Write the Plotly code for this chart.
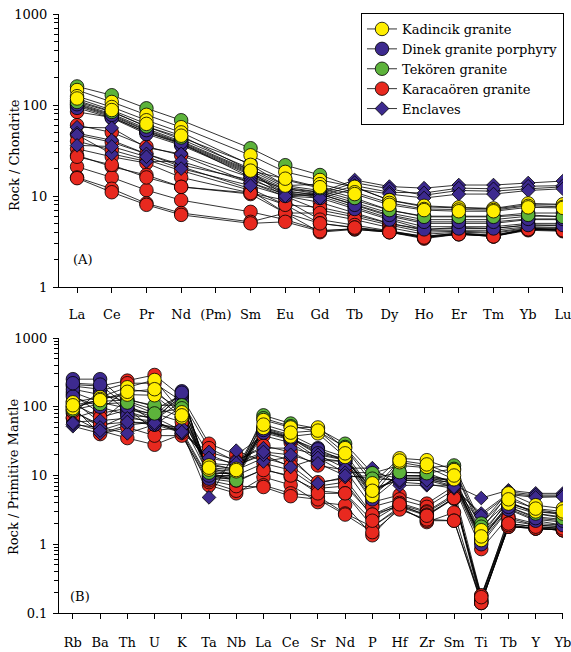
import plotly.graph_objects as go

W, H = 571, 652

REE_LABELS = ["La", "Ce", "Pr", "Nd", "(Pm)", "Sm", "Eu", "Gd", "Tb", "Dy", "Ho", "Er", "Tm", "Yb", "Lu"]
PM_LABELS = ["Rb", "Ba", "Th", "U", "K", "Ta", "Nb", "La", "Ce", "Sr", "Nd", "P", "Hf", "Zr", "Sm", "Ti", "Tb", "Y", "Yb"]

# Chondrite-normalised REE (None = Pm not analysed)
KAD_REE = [
    [146, 108, 78, 57, None, 28, 18.4, 15, 12.6, 9, 7.8, 7.5, 7.3, 8.3, 8.1],
    [125, 95, 68, 50, None, 22, 13, 13.5, 11, 8.4, 7.2, 7.1, 7.0, 7.8, 7.6],
    [118, 88, 62, 46, None, 19, 15.5, 12.5, 10.5, 8.0, 7.0, 6.8, 6.8, 7.5, 7.4],
]
DIN_REE = [
    [112, 85, 58, 42, None, 20, 13, 11.5, 9, 7, 6, 6, 6, 6.5, 6.5],
    [105, 80, 55, 40, None, 19, 12.5, 11, 8.5, 6.5, 5.5, 5.5, 5.5, 6, 6],
    [100, 76, 52, 38, None, 18, 12, 10.5, 8, 6, 5, 5, 5, 5.5, 5.5],
    [97, 74, 50, 37, None, 17.5, 11.5, 10, 7.5, 5.7, 4.6, 4.6, 4.6, 5, 5],
    [93, 72, 48, 36, None, 17, 11, 9.5, 7.2, 5.5, 4.3, 4.4, 4.4, 4.8, 4.8],
    [102, 78, 53, 39, None, 18.5, 10, 10.5, 8, 6.2, 5.2, 5.2, 5.2, 5.6, 5.6],
]
TEK_REE = [
    [160, 128, 92, 68, None, 33.5, 21.8, 17, 12.5, 9, 7.6, 7.4, 7.2, 8.0, 8.0],
    [108, 84, 58, 44, None, 22.5, 15, 12.2, 9.5, 7, 5.9, 5.9, 5.9, 6.2, 5.9],
]
KAR_REE = [
    [84, 73, 50, 38, None, 16, 10, 8.5, 6.5, 5, 4.2, 4.2, 4.2, 4.6, 4.5],
    [60, 50, 35, 28, None, 14, 9.8, 7, 5.9, 4.8, 4.0, 4.1, 4.0, 4.5, 4.4],
    [47, 39, 29, 21, None, 12, 8, 7.5, 6.2, 5, 4.3, 4.5, 4.4, 4.8, 4.7],
    [40, 32, 25, 19, None, 11.5, 6.5, 6.5, 5.5, 4.5, 3.8, 4.0, 3.9, 4.4, 4.3],
    [33, 27, 23, 16, None, 10.8, 9, 5.5, 4.8, 4.2, 3.6, 3.9, 3.7, 4.3, 4.2],
    [28, 21, 17, 12.6, None, 10.5, 6.5, 5, 4.5, 4.1, 3.5, 3.9, 3.6, 4.4, 4.2],
    [21, 16, 11.6, 9, None, 6.7, 5.5, 4.2, 4.3, 4.0, 3.4, 3.8, 3.6, 4.2, 4.1],
    [16, 12, 8.3, 6.5, None, 5.2, 6.5, 4.0, 4.3, 4.0, 3.5, 3.8, 3.6, 4.3, 4.2],
    [15.7, 11, 8, 6.2, None, 5.0, 5.2, 4.1, 4.4, 4.1, 3.6, 3.9, 3.7, 4.4, 4.3],
    [27, 22, 16, 12.6, None, 10.8, 8, 5.0, 4.5, 4.0, 3.5, 3.8, 3.6, 4.3, 4.2],
]
ENC_REE = [
    [57, 56, 34, 29, None, 16, 12, 11, 15, 12.7, 12.2, 13.2, 13.2, 13.9, 14.6],
    [49, 41, 29, 22, None, 15, 11, 10.5, 14, 12, 10.2, 11.5, 11.3, 12, 12.6],
    [47, 29, 24, 24, None, 14, 10.5, 10, 13, 11, 10.8, 12.2, 12, 12.8, 13],
    [36, 35, 27, 20, None, 13, 10, 9.5, 12, 10.5, 9.5, 10.5, 10.5, 11.5, 12],
]

# Primitive-mantle-normalised trace elements
KAD_PM = [
    [116, 138, 192, 245, 83, 14, 12.5, 64, 50, 50, 25, 7.7, 17.8, 16.7, 12, 1.6, 5.5, 3.7, 3.3],
    [95, 130, 150, 147, 70, 12.2, 11.5, 49, 37, 41, 18.6, 5, 15.6, 13.3, 8.8, 1.15, 3.9, 3.0, 2.8],
    [105, 125, 165, 180, 75, 13, 12, 55, 42, 45, 21, 6, 16.5, 14.5, 10, 1.3, 4.5, 3.3, 3.0],
]
DIN_PM = [
    [252, 252, 110, 60, 168, 9.6, 10, 50, 39, 25, 18.5, 6, 9, 9, 8.8, 1.5, 4, 3, 2.7],
    [163, 116, 95, 70, 140, 10.5, 11, 47, 36, 22, 17.5, 5.5, 10, 10, 8.4, 1.3, 3.7, 2.8, 2.5],
    [200, 180, 85, 65, 120, 9.5, 9.5, 45, 35, 20, 16.8, 6.5, 8.5, 8.5, 8, 1.2, 3.5, 2.5, 2.3],
    [180, 150, 120, 90, 150, 11, 10.5, 44, 34, 24, 16.3, 5, 11, 11, 7.7, 1.1, 3.3, 2.3, 2.1],
    [140, 100, 75, 55, 100, 9, 9, 42, 33, 18, 15.8, 4.5, 9.5, 9.5, 7.5, 1.0, 3.2, 2.2, 1.9],
    [220, 210, 100, 75, 160, 10, 10, 46, 35, 21, 17, 5.8, 10, 9.8, 8.1, 1.25, 3.5, 2.4, 2.2],
]
TEK_PM = [
    [100, 120, 125, 105, 105, 13, 10, 75, 57, 48, 29, 10.8, 14, 13, 14, 2.0, 5, 3.2, 2.8],
    [90, 110, 115, 80, 95, 11, 8.5, 68, 52, 44, 26, 9, 11.2, 10.8, 12.5, 1.8, 4.2, 2.8, 2.4],
]
KAR_PM = [
    [210, 200, 240, 290, 140, 29, 20, 38, 30, 16.7, 16, 4.1, 5.2, 3.9, 7, 0.85, 2.5, 2.0, 1.9],
    [80, 170, 220, 220, 120, 25, 16, 27, 22, 14, 12, 3.5, 4.5, 3.5, 6.2, 0.18, 2.2, 1.9, 1.8],
    [68, 90, 180, 160, 90, 20, 14, 21, 17, 8, 9, 2.7, 4.0, 3.0, 5.3, 0.16, 2.4, 1.9, 1.8],
    [150, 80, 95, 45, 50, 15, 12, 18, 14, 7, 8, 2.5, 3.8, 2.9, 5, 0.15, 2.0, 1.8, 1.7],
    [120, 60, 130, 100, 70, 12, 10, 15, 12, 6.5, 7, 2.7, 3.6, 2.7, 4.7, 0.14, 1.8, 1.7, 1.6],
    [90, 50, 75, 70, 45, 9, 8, 12.5, 9.5, 6, 5.5, 1.8, 3.5, 2.6, 4.6, 0.18, 1.9, 1.7, 1.7],
    [70, 45, 35, 28, 40, 7.2, 5.5, 9.5, 7.3, 4.1, 3.7, 1.35, 3.5, 2.1, 2.9, 0.14, 1.8, 1.7, 1.6],
    [100, 40, 50, 38, 38, 8, 6, 7.2, 5.5, 5, 2.8, 1.8, 3.3, 2.2, 2.2, 0.15, 1.8, 1.7, 1.6],
    [85, 55, 60, 55, 42, 8.5, 7, 6.8, 5, 4.5, 2.7, 1.5, 3.2, 2.3, 2.2, 0.14, 1.9, 1.7, 1.6],
    [110, 70, 90, 80, 60, 10, 8.5, 12, 10, 5.5, 5.5, 2.2, 3.8, 2.6, 4.7, 0.17, 2.0, 1.8, 1.7],
]
ENC_PM = [
    [60, 63, 68, 62, 41, 22, 16.7, 25, 25, 20, 12.8, 12.8, 7.2, 7.2, 7.2, 4.7, 6.1, 5.5, 5.5],
    [52, 41, 54, 60, 45, 4.8, 23, 16, 18.6, 7.7, 9.5, 10, 8, 7.5, 6.5, 2.8, 5.5, 5.0, 5.0],
    [55, 50, 41, 55, 50, 15, 14, 20, 13.3, 18, 11, 11, 9, 9, 7, 2.0, 5.8, 5.2, 5.2],
    [58, 45, 60, 58, 43, 18, 15, 22, 20, 15, 10, 9, 8.5, 8.5, 6.8, 2.6, 5.3, 4.8, 4.9],
]

GROUP_NAMES = ["Kadincik granite", "Dinek granite porphyry", "Tekören granite", "Karacaören granite", "Enclaves"]
GROUP_COLORS = ["#FFEE00", "#3D2A8F", "#5DB33B", "#E8291F", "#3D2A8F"]
GROUP_SYMBOLS = ["circle", "circle", "circle", "circle", "diamond"]
REE_SETS = [KAD_REE, DIN_REE, TEK_REE, KAR_REE, ENC_REE]
PM_SETS = [KAD_PM, DIN_PM, TEK_PM, KAR_PM, ENC_PM]

DRAW_ORDER = [3, 1, 4, 2, 0]  # red, navy, enclaves, green, yellow

FONT = "DejaVu Serif, serif"
FS = 13

fig = go.Figure()


def pts(vals):
    xs, ys = [], []
    for i, v in enumerate(vals):
        if v is not None:
            xs.append(i)
            ys.append(v)
    return xs, ys


def msize(sym):
    return 10.5 if sym == "diamond" else 13.5


for sets, xa, ya in [(REE_SETS, "x", "y"), (PM_SETS, "x2", "y2")]:
    for g in DRAW_ORDER:
        for s in sets[g]:
            xs, ys = pts(s)
            fig.add_trace(go.Scatter(x=xs, y=ys, mode="lines", xaxis=xa, yaxis=ya,
                                     line=dict(color="black", width=0.8),
                                     showlegend=False, hoverinfo="skip"))
    for g in DRAW_ORDER:
        for s in sets[g]:
            xs, ys = pts(s)
            fig.add_trace(go.Scatter(x=xs, y=ys, mode="markers", xaxis=xa, yaxis=ya,
                                     marker=dict(symbol=GROUP_SYMBOLS[g], size=msize(GROUP_SYMBOLS[g]),
                                                 color=GROUP_COLORS[g],
                                                 line=dict(color="black", width=0.8)),
                                     showlegend=False))

for g in range(5):
    fig.add_trace(go.Scatter(x=[None], y=[None], mode="lines+markers", name=GROUP_NAMES[g],
                             xaxis="x", yaxis="y",
                             line=dict(color="black", width=0.8),
                             marker=dict(symbol=GROUP_SYMBOLS[g], size=msize(GROUP_SYMBOLS[g]),
                                         color=GROUP_COLORS[g], line=dict(color="black", width=0.8))))


def px(x):
    return x / W


def py(y):
    return 1 - y / H


minor_top = [m * 10 ** e for e in range(0, 3) for m in range(2, 10)]
minor_bot = [m * 10 ** e for e in range(-1, 3) for m in range(2, 10)]

axis_common = dict(showline=True, linecolor="black", linewidth=1, showgrid=False, zeroline=False,
                   ticks="outside", tickcolor="black", tickwidth=1, ticklabeloverflow="allow",
                   automargin=False,
                   tickfont=dict(family=FONT, size=FS, color="black"))

fig.update_layout(
    width=W, height=H, margin=dict(l=0, r=0, t=0, b=0, autoexpand=False),
    paper_bgcolor="white", plot_bgcolor="white",
    xaxis=dict(domain=[px(59), px(563)], range=[-0.52, 14.003], anchor="y",
               tickmode="array", tickvals=list(range(len(REE_LABELS))), ticktext=REE_LABELS,
               ticklen=5, ticklabelstandoff=10, **axis_common),
    yaxis=dict(domain=[py(287), py(14)], type="log", range=[0, 3], anchor="x",
               tickmode="array", tickvals=[1, 10, 100, 1000], ticktext=["1", "10", "100", "1000"],
               ticklen=5, ticklabelstandoff=3,
               minor=dict(tickmode="array", tickvals=minor_top, ticks="outside", ticklen=4,
                          tickcolor="black", tickwidth=1, showgrid=False),
               **axis_common),
    xaxis2=dict(domain=[px(59), px(563)], range=[-0.51, 18.003], anchor="y2",
                tickmode="array", tickvals=list(range(len(PM_LABELS))), ticktext=PM_LABELS,
                ticklen=5, ticklabelstandoff=12, **axis_common),
    yaxis2=dict(domain=[py(613), py(338)], type="log", range=[-1, 3], anchor="x2",
                tickmode="array", tickvals=[0.1, 1, 10, 100, 1000], ticktext=["0.1", "1", "10", "100", "1000"],
                ticklen=5, ticklabelstandoff=3,
                minor=dict(tickmode="array", tickvals=minor_bot, ticks="outside", ticklen=4,
                           tickcolor="black", tickwidth=1, showgrid=False),
                **axis_common),
    legend=dict(x=px(564), y=py(13), xanchor="right", yanchor="top",
                bordercolor="black", borderwidth=1, bgcolor="white",
                font=dict(family=FONT, size=FS, color="black"), itemwidth=30),
    showlegend=True,
)

annots = [
    dict(text="Rock / Chondrite", x=px(15), y=py(155), textangle=-90),
    dict(text="Rock / Primitive Mantle", x=px(13), y=py(477), textangle=-90),
    dict(text="(A)", x=px(83), y=py(260), textangle=0),
    dict(text="(B)", x=px(80), y=py(596), textangle=0),
]
for a in annots:
    fig.add_annotation(text=a["text"], x=a["x"], y=a["y"], xref="paper", yref="paper",
                       textangle=a["textangle"], showarrow=False, xanchor="center", yanchor="middle",
                       font=dict(family=FONT, size=FS, color="black"))

fig.write_html("out.html")
